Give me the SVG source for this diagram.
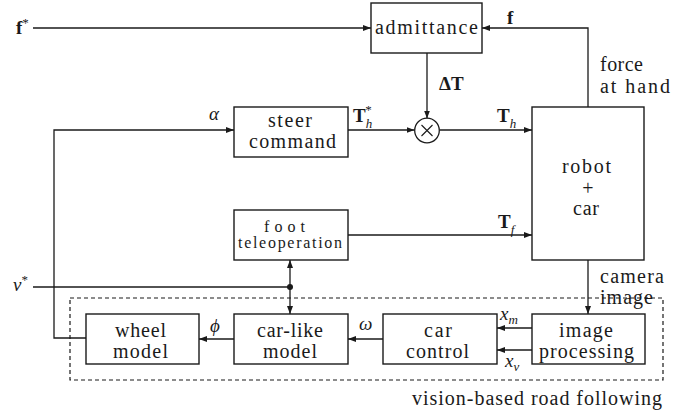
<svg xmlns="http://www.w3.org/2000/svg" width="699" height="414" viewBox="0 0 699 414">
<defs>
<marker id="ah" viewBox="0 0 8 8" refX="8" refY="4" markerWidth="8" markerHeight="8" markerUnits="userSpaceOnUse" orient="auto-start-reverse">
<path d="M0,1 L8,4 L0,7 Z" fill="#1a1a1a"/>
</marker>
</defs>
<style>
rect.b{fill:#fff;stroke:#1a1a1a;stroke-width:1.4}
.c{fill:none;stroke:#1a1a1a;stroke-width:1.3}
text{font-family:"Liberation Serif","Times New Roman",serif;font-size:20px;fill:#1a1a1a}
.m{text-anchor:middle}
.it{font-style:italic;font-size:19px}
.bf{font-weight:bold;font-size:19px}
.sub{font-style:italic;font-size:13px;font-weight:normal}
.st{font-size:13px;font-weight:normal}
.sm{font-size:16px}
</style>
<rect width="699" height="414" fill="#fff"/>
<g id="connectors">
<path class="c" d="M33,28 H371" marker-end="url(#ah)"/>
<path class="c" d="M588,107 V28 H482" marker-end="url(#ah)"/>
<path class="c" d="M427,53 V118.5" marker-end="url(#ah)"/>
<path class="c" d="M348,130 H414.5" marker-end="url(#ah)"/>
<path class="c" d="M439.5,130 H532" marker-end="url(#ah)"/>
<path class="c" d="M86,338 H54 V130 H234" marker-end="url(#ah)"/>
<path class="c" d="M348,235 H532" marker-end="url(#ah)"/>
<path class="c" d="M33,287 H290"/>
<circle cx="290" cy="287" r="3" fill="#1a1a1a"/>
<path class="c" d="M290,260 V314" marker-start="url(#ah)" marker-end="url(#ah)"/>
<path class="c" d="M234,339 H199" marker-end="url(#ah)"/>
<path class="c" d="M383,339 H348" marker-end="url(#ah)"/>
<path class="c" d="M532,328 H497" marker-end="url(#ah)"/>
<path class="c" d="M532,350 H497" marker-end="url(#ah)"/>
<path class="c" d="M588,260 V314" marker-end="url(#ah)"/>
</g>
<g id="group-vision">
<rect x="70" y="298" width="593" height="82" fill="none" stroke="#1a1a1a" stroke-width="1.2" stroke-dasharray="4,3"/>
<text x="412" y="405" textLength="250" lengthAdjust="spacing">vision-based road following</text>
</g>
<g id="admittance">
<rect class="b" x="371" y="3" width="111" height="50"/>
<text x="375" y="34" textLength="103" lengthAdjust="spacing">admittance</text>
</g>
<g id="mult">
<circle cx="427" cy="130.5" r="12.3" fill="#fff" stroke="#1a1a1a" stroke-width="1.3"/>
<path d="M421.5,125 L432.5,136 M432.5,125 L421.5,136" stroke="#1a1a1a" stroke-width="1.1"/>
</g>
<g id="steer">
<rect class="b" x="234" y="107" width="114" height="50"/>
<text x="268" y="127" textLength="44" lengthAdjust="spacing">steer</text>
<text x="249" y="148" textLength="87" lengthAdjust="spacing">command</text>
</g>
<g id="robot">
<rect class="b" x="532" y="107" width="112" height="153"/>
<text x="562" y="173" textLength="49" lengthAdjust="spacing">robot</text>
<text class="m" x="588" y="195">+</text>
<text x="573" y="215" textLength="26" lengthAdjust="spacing">car</text>
</g>
<g id="foot">
<rect class="b" x="234" y="210" width="114" height="50"/>
<text class="sm" x="264" y="232" textLength="41" lengthAdjust="spacing">foot</text>
<text class="sm" x="238" y="248" textLength="104" lengthAdjust="spacing">teleoperation</text>
</g>
<g id="wheel">
<rect class="b" x="86" y="314" width="113" height="50"/>
<text x="115" y="337" textLength="51" lengthAdjust="spacing">wheel</text>
<text x="113" y="358" textLength="55" lengthAdjust="spacing">model</text>
</g>
<g id="carlike">
<rect class="b" x="234" y="314" width="114" height="50"/>
<text x="257" y="337" textLength="66" lengthAdjust="spacing">car-like</text>
<text x="263" y="358" textLength="54" lengthAdjust="spacing">model</text>
</g>
<g id="carcontrol">
<rect class="b" x="383" y="314" width="114" height="50"/>
<text x="424" y="337" textLength="28" lengthAdjust="spacing">car</text>
<text x="406" y="358" textLength="63" lengthAdjust="spacing">control</text>
</g>
<g id="imageproc">
<rect class="b" x="532" y="314" width="113" height="50"/>
<text x="559" y="337" textLength="54" lengthAdjust="spacing">image</text>
<text x="539" y="358" textLength="95" lengthAdjust="spacing">processing</text>
</g>
<g id="labels">
<text class="bf" x="16" y="34">f<tspan class="st" dy="-7">*</tspan></text>
<text class="bf" x="507" y="24">f</text>
<text class="bf" x="439" y="90">ΔT</text>
<text x="600" y="71" textLength="43" lengthAdjust="spacing">force</text>
<text x="600" y="93" textLength="70" lengthAdjust="spacing">at hand</text>
<text class="it" x="209" y="120">α</text>
<text class="bf" x="353" y="122">T<tspan class="sub" dy="6">h</tspan><tspan class="st" dx="-7" dy="-14">*</tspan></text>
<text class="bf" x="497" y="122">T<tspan class="sub" dy="6">h</tspan></text>
<text class="bf" x="498" y="228">T<tspan class="sub" dy="6">f</tspan></text>
<text class="it" x="13" y="291">v<tspan class="st" font-style="normal" dy="-7">*</tspan></text>
<text class="it" x="210" y="332">ϕ</text>
<text class="it" x="359" y="330">ω</text>
<text class="it" x="500" y="320">x<tspan class="sub" dy="4">m</tspan></text>
<text class="it" x="505" y="367">x<tspan class="sub" dy="4">v</tspan></text>
<text x="600" y="283" textLength="64" lengthAdjust="spacing">camera</text>
<text x="600" y="304" textLength="53" lengthAdjust="spacing">image</text>
</g>
</svg>
